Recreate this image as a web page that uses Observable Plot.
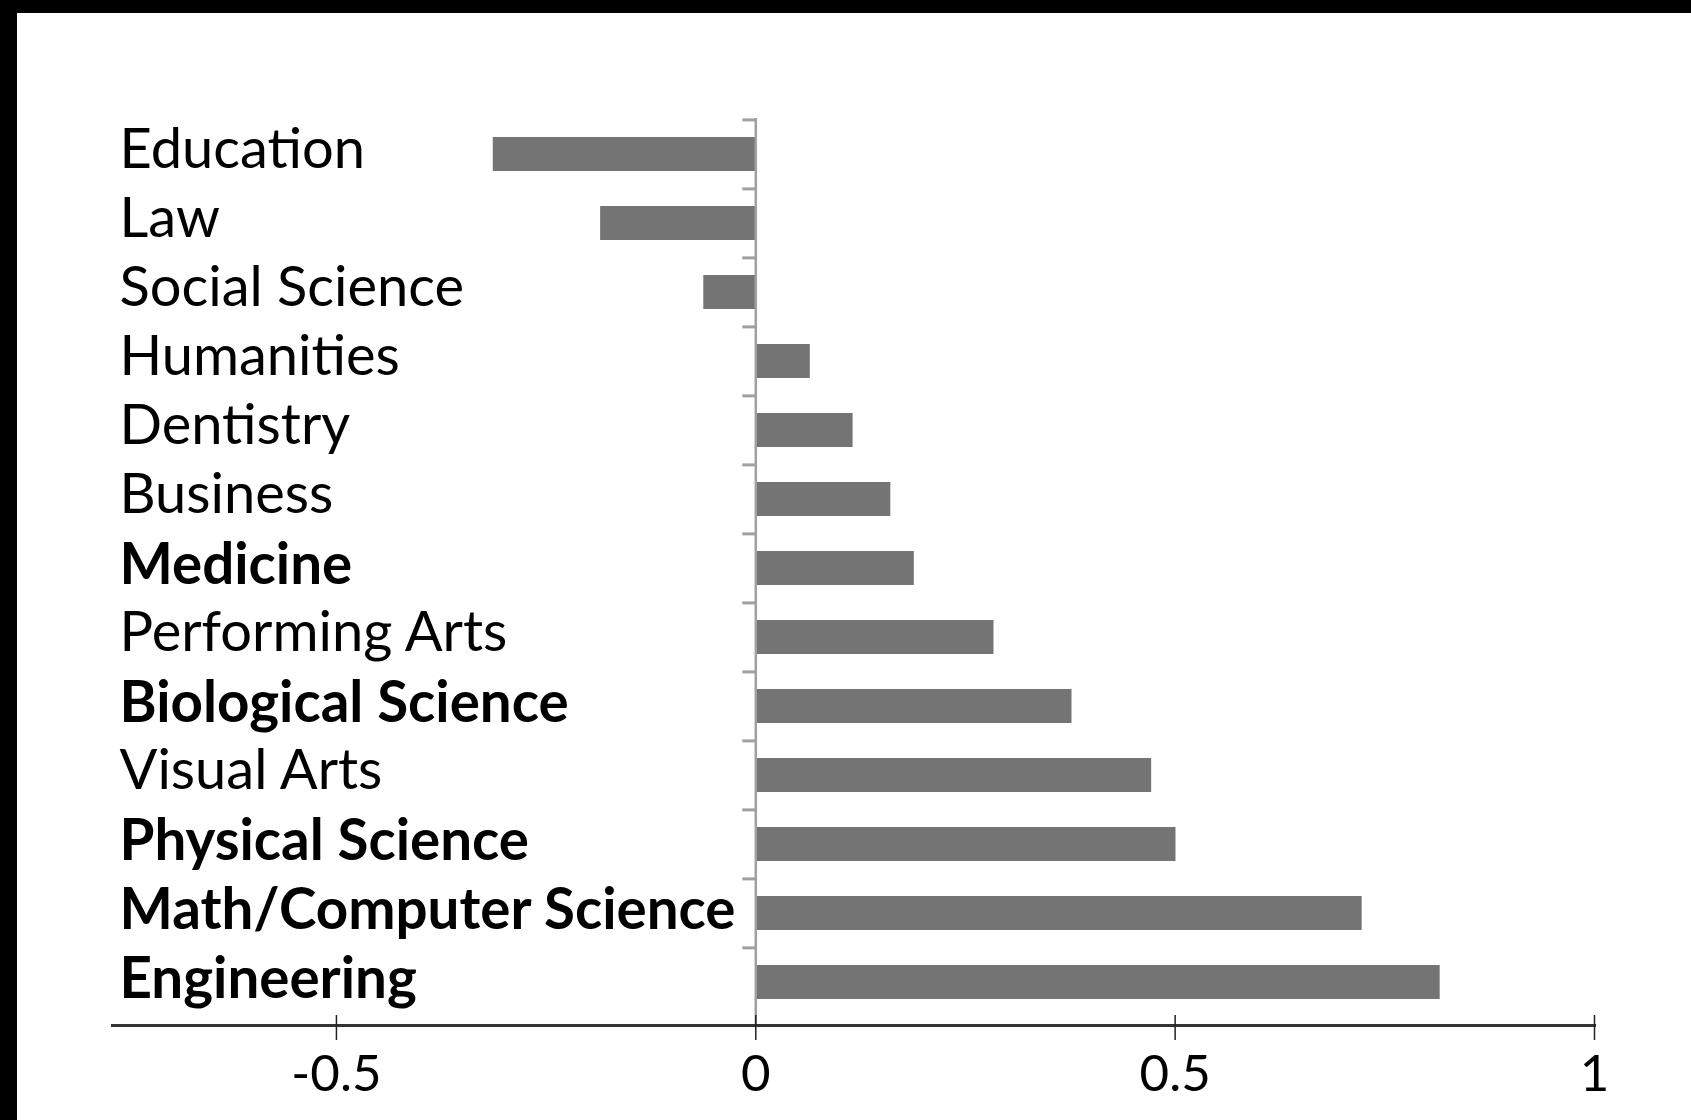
<!DOCTYPE html>
<html><head><meta charset="utf-8">
<script src="https://cdn.jsdelivr.net/npm/d3@7"></script>
<script src="https://cdn.jsdelivr.net/npm/@observablehq/plot@0.6"></script>
<style>
html,body{margin:0;padding:0;background:#fff;}
#frame{box-sizing:border-box;width:1691px;height:1120px;border-top:13px solid #000;border-left:17px solid #000;background:#fff;overflow:hidden;}
#frame svg{display:block}
</style></head><body><div id="frame"></div>
<script>
const categories = ["Education","Law","Social Science","Humanities","Dentistry","Business","Medicine","Performing Arts","Biological Science","Visual Arts","Physical Science","Math/Computer Science","Engineering"];
const values = [-0.313,-0.185,-0.062,0.065,0.116,0.161,0.189,0.284,0.377,0.472,0.501,0.723,0.816];
const boldCategories = ["Medicine","Biological Science","Physical Science","Math/Computer Science","Engineering"];
const xTicks = [-0.5, 0, 0.5, 1];
const xDomain = [-0.767, 1];

const data = categories.map((c, i) => ({category: c, value: values[i]}));
const normalCategories = categories.filter(c => !boldCategories.includes(c));

const W = 1674, H = 1107;
const mL = 95, mR = 97, mT = 105, mB = 95;
const yRange = [105, 1005];
const xs = Plot.scale({x: {domain: xDomain, range: [mL, W - mR]}});
const zeroDx = xs.apply(0) - mL;
const step = (yRange[1] - yRange[0]) / categories.length;

const plot = Plot.plot({
  width: W, height: H,
  marginLeft: mL, marginRight: mR, marginTop: mT, marginBottom: mB,
  style: {background: "white", fontFamily: "Lato, 'Open Sans', sans-serif", color: "#000"},
  x: {domain: xDomain, label: null},
  y: {type: "band", domain: categories, range: yRange, paddingInner: 0.51, paddingOuter: 0.255, label: null},
  marks: [
    Plot.barX(data, {x: "value", y: "category", fill: "#747474"}),
    Plot.ruleX([0], {stroke: "#a0a0a0", strokeWidth: 2.5}),
    Plot.axisY(categories, {anchor: "left", tickSize: 13, tickFormat: () => "", dx: zeroDx, dy: -step / 2, stroke: "#a0a0a0", strokeWidth: 3, label: null}),
    Plot.axisY(normalCategories, {anchor: "left", tickSize: 0, tickPadding: 0, textAnchor: "start", dx: 7, dy: -4, fontSize: 56, fill: "#000", label: null}),
    Plot.axisY(boldCategories, {anchor: "left", tickSize: 0, tickPadding: 0, textAnchor: "start", dx: 7, dy: -3, fontSize: 56.5, fontWeight: "bold", fill: "#000", label: null}),
    Plot.frame({anchor: "bottom", stroke: "#333", strokeWidth: 3}),
    Plot.axisX(xTicks, {anchor: "bottom", tickSize: 25, dy: -10, tickFormat: () => "", stroke: "#222", strokeWidth: 1.5, label: null}),
    Plot.axisX(xTicks, {anchor: "bottom", tickSize: 0, tickPadding: 29, fontSize: 51, fill: "#000", tickFormat: d => String(d), label: null})
  ]
});
document.getElementById("frame").appendChild(plot);
</script>
</body></html>
